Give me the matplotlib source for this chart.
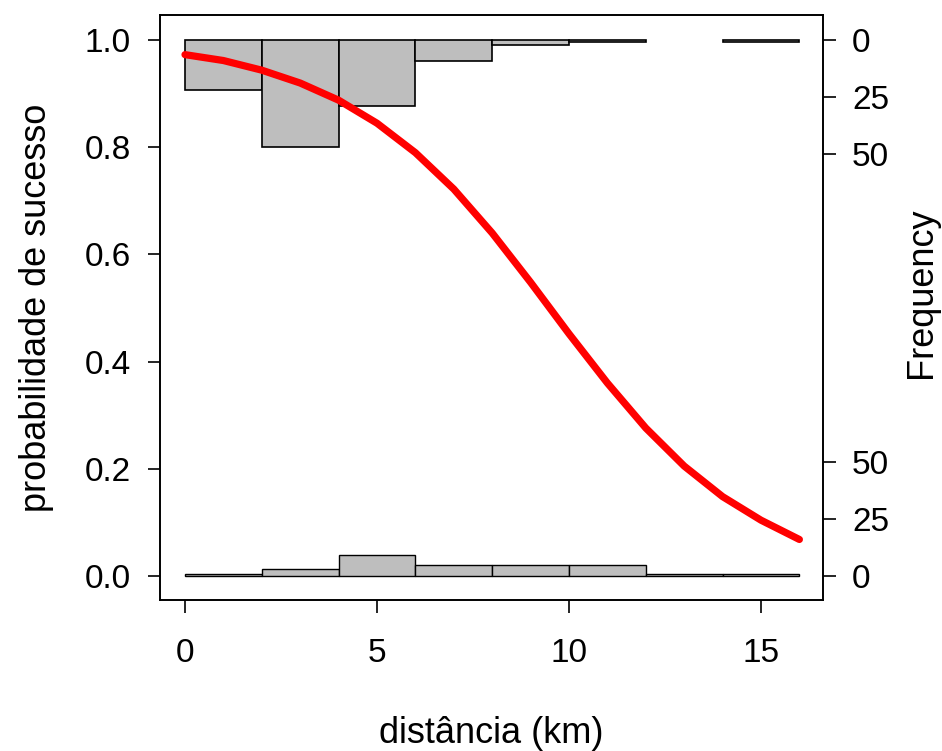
import matplotlib
matplotlib.use("Agg")
import matplotlib.pyplot as plt
import numpy as np

plt.rcParams['font.family'] = ['Liberation Sans', 'DejaVu Sans']

# Histogram bins (km)
bin_left = [0, 2, 4, 6, 8, 10, 12, 14]
bin_width = 2
# counts hanging from the top (y = 1)
top_counts = [22, 47, 29, 9, 2, 1, 0, 1]
# counts rising from the bottom (y = 0)
bottom_counts = [1, 3, 9, 5, 5, 5, 1, 1]

# fitted probability curve
curve_x = [0, 1, 2, 3, 4, 5, 6, 7, 8, 9, 10, 11, 12, 13, 14, 15, 16]
curve_p = [0.973, 0.962, 0.944, 0.920, 0.888, 0.845, 0.790, 0.722, 0.640,
           0.548, 0.452, 0.360, 0.276, 0.205, 0.148, 0.104, 0.068]

x_ticks = [0, 5, 10, 15]
y_ticks = [0.0, 0.2, 0.4, 0.6, 0.8, 1.0]
freq_ticks = [0, 25, 50]
count_scale = 0.212 / 50  # probability units per count

fig = plt.figure(figsize=(9.42, 7.51), dpi=100)
ax = fig.add_axes([160/942, 1-600/751, (823-160)/942, (600-15)/751])

bl = np.array(bin_left, dtype=float)
tc = np.array(top_counts, dtype=float)
bc = np.array(bottom_counts, dtype=float)

mt = tc > 0
ax.bar(bl[mt], tc[mt]*count_scale, width=bin_width, bottom=1 - tc[mt]*count_scale,
       align='edge', color='#bebebe', edgecolor='black', linewidth=1.2, zorder=2)
mb = bc > 0
ax.bar(bl[mb], bc[mb]*count_scale, width=bin_width, bottom=0,
       align='edge', color='#bebebe', edgecolor='black', linewidth=1.0, zorder=2)

ax.plot(curve_x, curve_p, color='red', linewidth=5.2, solid_capstyle='round',
        solid_joinstyle='round', zorder=3)

ax.set_xlim(-0.651, 16.615)
ax.set_ylim(-0.045, 1.047)
ax.set_xticks(x_ticks)
ax.set_xticklabels([str(v) for v in x_ticks])
ax.set_yticks(y_ticks)
ax.set_yticklabels([f"{v:.1f}" for v in y_ticks])
ax.tick_params(axis='both', direction='out', length=9, width=1.2, labelsize=24, color='black')
ax.tick_params(axis='x', pad=18)
ax.tick_params(axis='y', pad=12)
for s in ax.spines.values():
    s.set_linewidth(1.2)
    s.set_color('black')

ax.set_xlabel("distância (km)", fontsize=26, labelpad=34)
ax.set_ylabel("probabilidade de sucesso", fontsize=26, labelpad=22)

ax2 = ax.twinx()
ax2.set_ylim(ax.get_ylim())
rt_pos = [1 - c*count_scale for c in freq_ticks] + [c*count_scale for c in freq_ticks]
rt_lab = [str(c) for c in freq_ticks] * 2
ax2.set_yticks(rt_pos)
ax2.set_yticklabels(rt_lab)
ax2.tick_params(axis='y', direction='out', length=9, width=1.2, labelsize=24, pad=12)
for s in ax2.spines.values():
    s.set_linewidth(1.2)

fig.text(922/942, 1 - 293/751, "Frequency", fontsize=26, rotation=90,
         ha='center', va='center')

fig.savefig("out.png", dpi=100)
